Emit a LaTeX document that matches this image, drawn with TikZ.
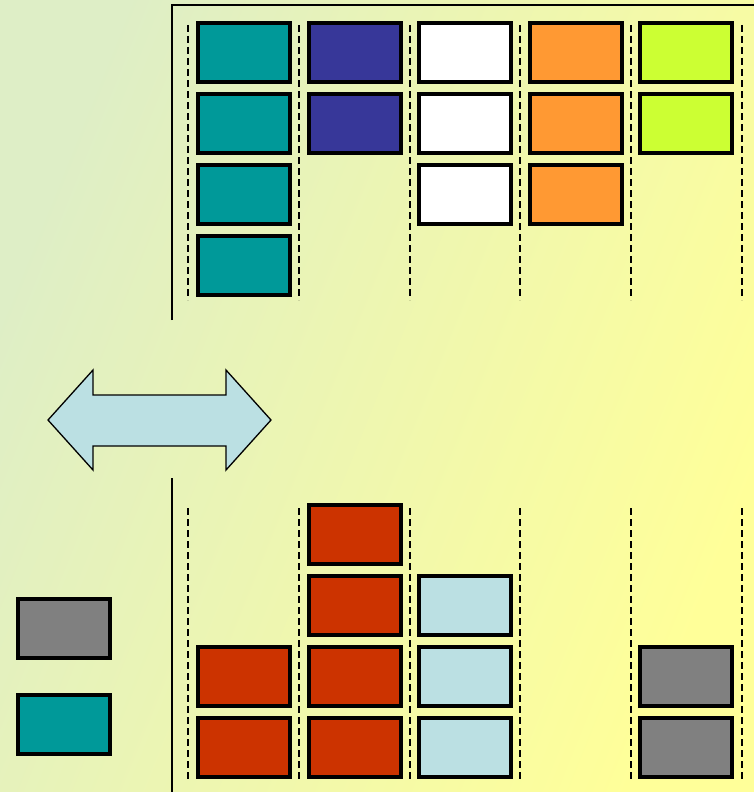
\documentclass[tikz,border=0pt]{standalone}
\usepackage{tikz}
\definecolor{bgleft}{RGB}{222,238,198}
\definecolor{bgright}{RGB}{255,255,153}
\definecolor{tealblk}{RGB}{0,153,153}
\definecolor{navyblk}{RGB}{55,55,153}
\definecolor{orangeblk}{RGB}{255,153,51}
\definecolor{limeblk}{RGB}{204,255,51}
\definecolor{redblk}{RGB}{204,51,0}
\definecolor{iceblk}{RGB}{187,224,227}
\definecolor{grayblk}{RGB}{128,128,128}

\tikzset{
  blk/.style={draw=black,line width=4pt,minimum width=92pt,minimum height=59pt,inner sep=0pt,fill=#1},
  slot/.style={line width=2pt,dash pattern=on 7pt off 4pt},
  frame/.style={line width=1.6pt}
}

\begin{document}
\begin{tikzpicture}[x=1pt,y=-1pt]
      \useasboundingbox (0,0) rectangle (754,792);
      \shade[left color=bgleft,right color=bgright,shading angle=68] (0,0) rectangle (754,792);
      % frames
      \draw[frame] (172,320) -- (172,5) -- (754,5);
      \draw[frame] (172,478) -- (172,792);
      % column separators
      \foreach \x in {188,299,410,520,631,742} {
        \draw[slot] (\x,25) -- (\x,300);
        \draw[slot] (\x,508) -- (\x,780);
      }
      % upper stacks
      \foreach \c/\n/\col in {1/4/tealblk,2/2/navyblk,3/3/white,4/3/orangeblk,5/2/limeblk}
        \foreach \r in {1,...,\n}
          \node[blk=\col] (up\c\r) at ({244+110.5*(\c-1)},{52.5+71*(\r-1)}) {};
      % lower stacks (counted from the bottom)
      \foreach \c/\n/\col in {1/2/redblk,2/4/redblk,3/3/iceblk,5/2/grayblk}
        \foreach \r in {1,...,\n}
          \node[blk=\col] (lo\c\r) at ({244+110.5*(\c-1)},{747-71*(\r-1)}) {};
      % legend
      \node[blk=grayblk] (keygray) at (64,628.5) {};
      \node[blk=tealblk] (keyteal) at (64,724) {};
      % swap arrow
      \draw[line width=1.3pt,fill=iceblk,line join=miter]
        (48,420) -- (93,370) -- (93,395) -- (226,395) -- (226,370) -- (271,420)
        -- (226,470) -- (226,446) -- (93,446) -- (93,470) -- cycle;
\end{tikzpicture}
\end{document}
